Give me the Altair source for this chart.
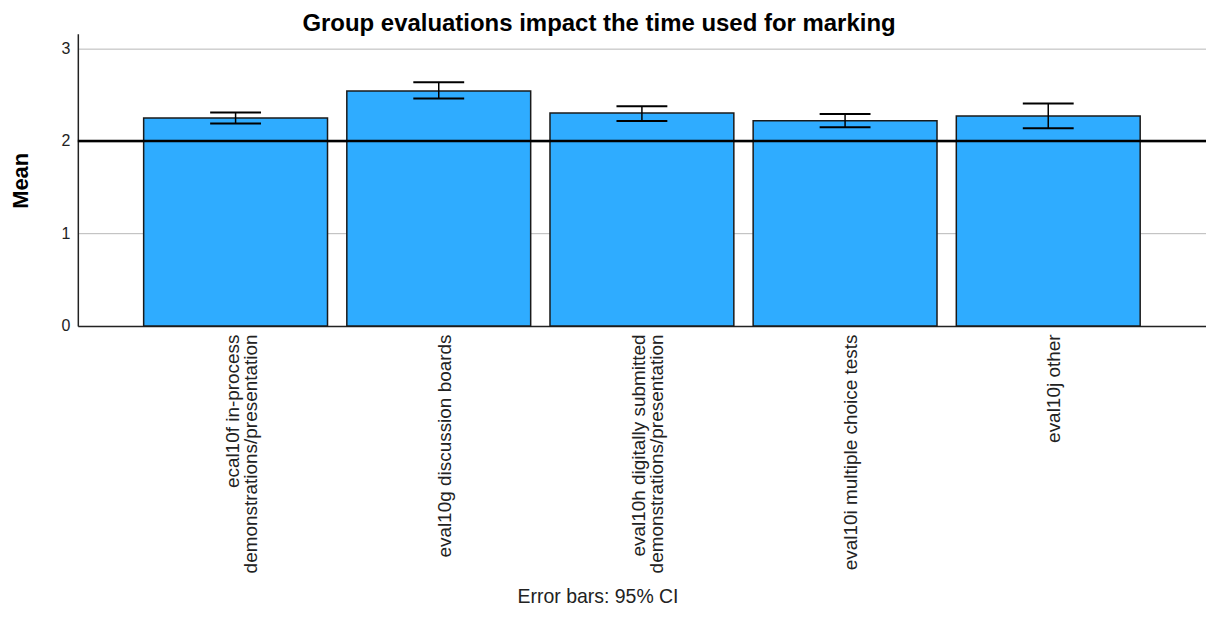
import altair as alt
import pandas as pd

categories = [
    "ecal10f in-process|demonstrations/presentation",
    "eval10g discussion boards",
    "eval10h digitally submitted|demonstrations/presentation",
    "eval10i multiple choice tests",
    "eval10j other",
]
means = [2.248, 2.540, 2.302, 2.220, 2.270]
ci_low = [2.188, 2.458, 2.216, 2.148, 2.137]
ci_high = [2.307, 2.634, 2.375, 2.291, 2.404]
ref_value = [2]
y_ticks = [0, 1, 2, 3]

df = pd.DataFrame({"cat": categories, "mean": means, "lo": ci_low, "hi": ci_high})
ref_df = pd.DataFrame({"v": ref_value})

FONT = "Liberation Sans"
XTITLE = "Error bars: 95% CI"

x_axis = alt.Axis(
    title=XTITLE,
    labelAngle=-90,
    labelAlign="right",
    labelBaseline="middle",
    labelExpr="split(datum.label, '|')",
    labelFont=FONT,
    labelFontSize=19,
    labelLineHeight=18,
    labelPadding=8,
    labelOffset={"condition": {"test": "indexof(datum.label, '|') >= 0", "value": -3}, "value": 6},
    labelLimit=0,
    labelColor="#222222",
    ticks=False,
    grid=False,
    domainColor="#222222",
    domainWidth=1.5,
    titleFont=FONT,
    titleFontSize=19.5,
    titleFontWeight="normal",
    titleColor="#222222",
    titleX=521,
    titleY=271,
    titleBaseline="middle",
    titleAlign="center",
)

y_axis = alt.Axis(
    title="Mean",
    values=y_ticks,
    format="d",
    grid=True,
    gridColor="#b8b8b8",
    gridWidth=1,
    ticks=False,
    labelFont=FONT,
    labelFontSize=16,
    labelPadding=8,
    labelColor="#222222",
    domainColor="#222222",
    domainWidth=1.5,
    titleFont=FONT,
    titleFontSize=22,
    titleFontWeight="bold",
    titleColor="black",
    titleX=-57,
    titleY=147,
    titleBaseline="middle",
    titleAlign="center",
)

x_enc = alt.X(
    "cat:N",
    sort=categories,
    scale=alt.Scale(paddingInner=0.095, paddingOuter=0.324),
    axis=x_axis,
)

bars = alt.Chart(df).mark_bar(fill="#2FACFF", stroke="#1a1a1a", strokeWidth=1.5).encode(
    x=x_enc,
    y=alt.Y("mean:Q", scale=alt.Scale(domain=[0, 3.16], nice=False, zero=True), axis=y_axis),
)

ref = alt.Chart(ref_df).mark_rule(color="black", strokeWidth=2.5).encode(
    y=alt.Y("v:Q", title="Mean")
)

err = alt.Chart(df).mark_rule(color="black", strokeWidth=1.5).encode(
    x=alt.X("cat:N", sort=categories, title=XTITLE),
    y=alt.Y("lo:Q", title="Mean"),
    y2="hi:Q",
)

cap_hi = alt.Chart(df).mark_tick(color="black", thickness=2, size=51, orient="horizontal", opacity=1).encode(
    x=alt.X("cat:N", sort=categories, title=XTITLE),
    y=alt.Y("hi:Q", title="Mean"),
)
cap_lo = alt.Chart(df).mark_tick(color="black", thickness=2, size=51, orient="horizontal", opacity=1).encode(
    x=alt.X("cat:N", sort=categories, title=XTITLE),
    y=alt.Y("lo:Q", title="Mean"),
)

chart = alt.layer(bars, ref, err, cap_hi, cap_lo).properties(
    width=1131,
    height=293,
    autosize=alt.AutoSizeParams(type="none"),
    padding={"left": 70, "top": 25, "right": 0, "bottom": 282},
    background="white",
    title=alt.TitleParams(
        "Group evaluations impact the time used for marking",
        font=FONT,
        fontSize=24,
        fontWeight="bold",
        color="black",
        anchor="middle",
        dx=-43,
        dy=26,
        offset=5,
        baseline="alphabetic",
    ),
).configure_view(stroke=None)

chart.save("out.html", embed_options={"renderer": "svg", "actions": False})
